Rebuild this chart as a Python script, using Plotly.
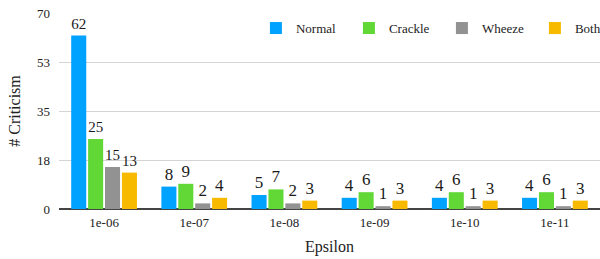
import plotly.graph_objects as go

categories = ["1e-06", "1e-07", "1e-08", "1e-09", "1e-10", "1e-11"]
normal = [62, 8, 5, 4, 4, 4]
crackle = [25, 9, 7, 6, 6, 6]
wheeze = [15, 2, 2, 1, 1, 1]
both = [13, 4, 3, 3, 3, 3]
series = [("Normal", normal, "#00A2FF"), ("Crackle", crackle, "#61D836"),
          ("Wheeze", wheeze, "#929292"), ("Both", both, "#F8BA00")]
tick_vals = [0, 17.5, 35, 52.5, 70]
tick_text = ["0", "18", "35", "53", "70"]

FONT = "Liberation Serif, Times New Roman, serif"
fig = go.Figure()
for name, vals, col in series:
    fig.add_trace(go.Bar(x=categories, y=vals, name=name, marker_color=col,
                         marker_line_width=0, text=vals, textposition="outside",
                         cliponaxis=False,
                         textfont=dict(family=FONT, size=17, color="#1a1a1a")))

fig.update_layout(
    width=600, height=259, paper_bgcolor="white", plot_bgcolor="white",
    margin=dict(l=59, r=0, t=13, b=50, autoexpand=False),
    barmode="group", bargap=0.25, bargroupgap=0.11,
    font=dict(family=FONT, size=13, color="#222"),
    legend=dict(orientation="h", x=0.364, xanchor="left", y=0.923, yanchor="middle",
                entrywidth=48, entrywidthmode="pixels",
                font=dict(family=FONT, size=13, color="#222"), bgcolor="rgba(0,0,0,0)"),
    xaxis=dict(type="category", range=[-0.5, 5.5], showgrid=False, ticks="",
               title=dict(text="Epsilon", standoff=11), showline=False, automargin=False,
               ticklabelstandoff=4),
    yaxis=dict(range=[0, 70], tickvals=tick_vals, ticktext=tick_text,
               gridcolor="#d4d4d4", gridwidth=1, zeroline=True, zerolinecolor="#444",
               zerolinewidth=1.5, ticks="", title=dict(text="# Criticism", standoff=12),
               showline=False, automargin=False, ticklabelstandoff=8),
)
fig.write_html("out.html", post_script="document.body.style.margin='0';",
               config={"displayModeBar": False})
